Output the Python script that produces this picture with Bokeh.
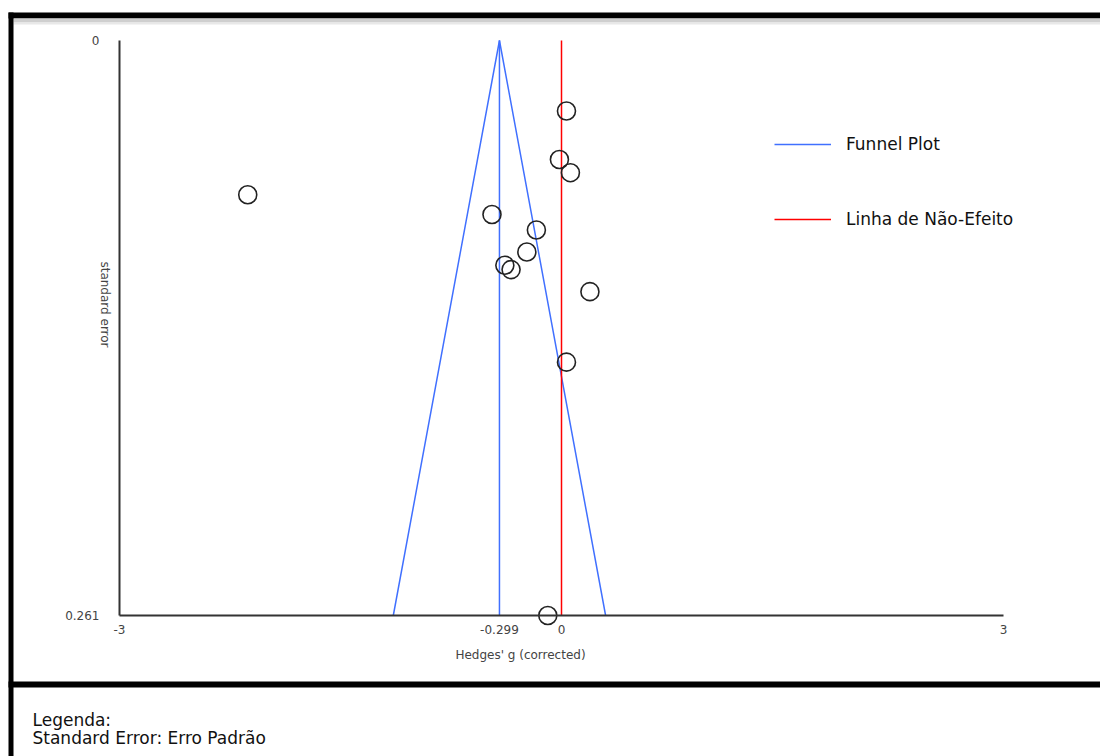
import math
from bokeh.plotting import figure
from bokeh.models import (Range1d, FixedTicker, Label, BoxAnnotation, Legend,
                          LegendItem, LinearAxis)
from bokeh.embed import file_html
from bokeh.resources import INLINE

# ---------------- data ----------------
hedges_g = [0.024, -0.010, 0.043, -1.512, -0.335, -0.121, -0.167, -0.273,
            -0.243, 0.137, 0.024, -0.066]
std_err = [0.032, 0.054, 0.060, 0.070, 0.079, 0.086, 0.096, 0.102,
           0.104, 0.114, 0.146, 0.261]
pooled = -0.299
se_max = 0.261
null_effect = 0.0
z95 = 1.96

x_lo, x_hi = -2.13, 2.13
x_ticks = [x_lo, pooled, null_effect, x_hi]
x_tick_labels = ["-3", "-0.299", "0", "3"]
y_ticks = [0.0, se_max]
y_tick_labels = ["0", "0.261"]
legend_labels = ["Funnel Plot", "Linha de Não-Efeito"]
x_title = "Hedges' g (corrected)"
y_title = "standard error"
note_lines = ["Legenda:", "Standard Error: Erro Padrão"]

# ---------------- layout (canvas pixels) ----------------
W, H = 1100, 756
AX_L, AX_R, AX_T, AX_B = 119, 1003, 40, 615   # where the axes lie
y_per_px = se_max / (AX_B - AX_T)
x_per_px = (x_hi - x_lo) / (AX_R - AX_L)


def dx(px):
    return x_lo + (px - AX_L) * x_per_px


def dy(py):
    return (py - AX_T) * y_per_px


FONT = "DejaVu Sans"
BLUE = "#4070ff"
RED = "#ff0000"

p = figure(width=W, height=H, output_backend="svg", toolbar_location=None,
           x_range=Range1d(dx(0), dx(W)), y_range=Range1d(dy(H), dy(0)),
           x_axis_location=None, y_axis_location=None,
           min_border=0)
p.background_fill_color = "white"
p.border_fill_color = "white"
p.outline_line_color = None
p.xgrid.visible = False
p.ygrid.visible = False

xaxis = LinearAxis(ticker=FixedTicker(ticks=x_ticks),
                   major_label_overrides=dict(zip(x_ticks, x_tick_labels)),
                   fixed_location=se_max, bounds=(x_lo, x_hi),
                   major_label_standoff=3)
yaxis = LinearAxis(ticker=FixedTicker(ticks=y_ticks),
                   major_label_overrides=dict(zip(y_ticks, y_tick_labels)),
                   fixed_location=x_lo, bounds=(0, se_max),
                   major_label_standoff=14)
for ax in (xaxis, yaxis):
    ax.axis_line_color = "#333333"
    ax.axis_line_width = 2
    ax.major_tick_line_color = None
    ax.minor_tick_line_color = None
    ax.major_label_text_font = FONT
    ax.major_label_text_font_size = "12px"
    ax.major_label_text_color = "#444444"
p.add_layout(xaxis, "below")
p.add_layout(yaxis, "left")

# funnel
funnel = p.line(x=[pooled - z95 * se_max, pooled, pooled + z95 * se_max],
                y=[se_max, 0, se_max], line_color=BLUE, line_width=1.5)
p.line(x=[pooled, pooled], y=[0, se_max], line_color=BLUE, line_width=1.5)
null = p.line(x=[null_effect, null_effect], y=[0, se_max], line_color=RED,
              line_width=1.5)
p.scatter(x=hedges_g, y=std_err, marker="circle", size=18, fill_color=None,
          line_color="#222222", line_width=1.6)

legend = Legend(items=[LegendItem(label=legend_labels[0], renderers=[funnel]),
                       LegendItem(label=legend_labels[1], renderers=[null])],
                location=(774, H - 234), glyph_width=57, glyph_height=30,
                spacing=45, padding=0, margin=0, label_standoff=15,
                border_line_color=None, background_fill_alpha=0,
                label_text_font=FONT, label_text_font_size="17px",
                label_text_color="#111111")
p.add_layout(legend)


# frame decorations (black bars of the original window)
def bar(l, r, t, b, color):
    p.add_layout(BoxAnnotation(left=dx(l), right=dx(r), top=dy(t),
                               bottom=dy(b), fill_color=color, fill_alpha=1,
                               line_color=None, level="overlay"))


bar(8, 1100, 12, 18, "black")
bar(13, 1100, 18, 22, "#cfcfcf")
bar(13, 1100, 22, 24, "#e8e8e8")
bar(8, 13, 12, 756, "black")
bar(8, 1100, 681, 687, "black")

# axis titles
p.add_layout(Label(x=dx(520), y=dy(654), text=x_title, text_align="center",
                   text_baseline="middle", text_font=FONT,
                   text_font_size="12px", text_color="#444444"))
p.add_layout(Label(x=dx(104), y=dy(304), text=y_title, text_align="center",
                   text_baseline="middle", angle=-math.pi / 2,
                   text_font=FONT, text_font_size="12px",
                   text_color="#444444"))

# note below the frame
for line, base in zip(note_lines, (719, 737)):
    p.add_layout(Label(x=dx(32), y=dy(base), text=line, text_align="left",
                       text_baseline="alphabetic", text_font=FONT,
                       text_font_size="17px", text_color="#111111"))

open("out.html", "w").write(file_html(p, INLINE))
